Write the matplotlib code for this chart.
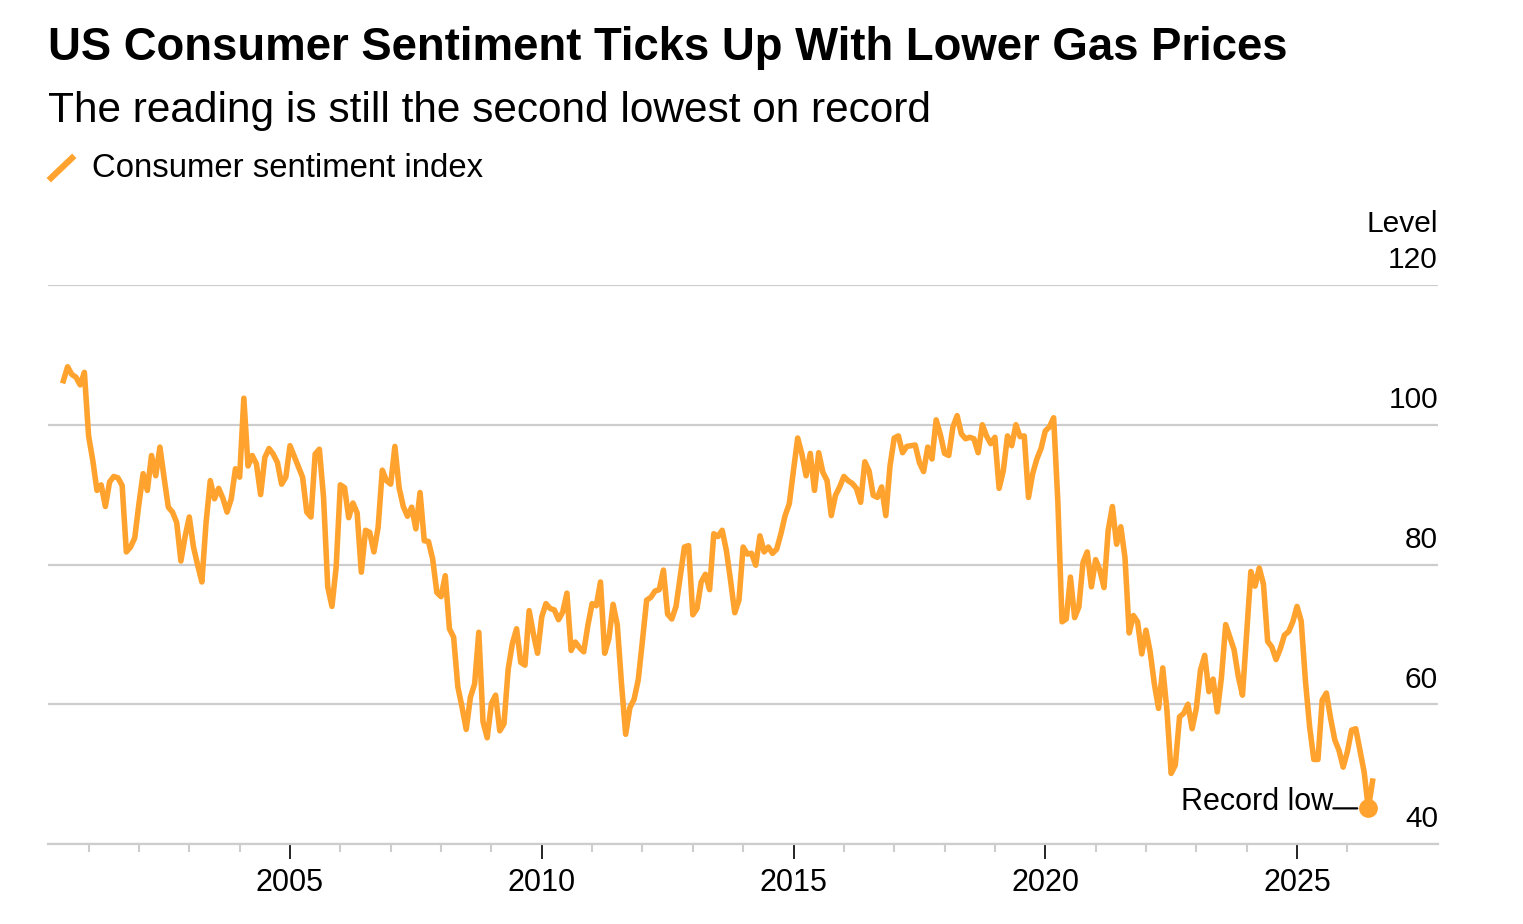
import numpy as np
import matplotlib
matplotlib.use("Agg")
import matplotlib.pyplot as plt
import matplotlib.transforms as mtransforms

plt.rcParams['font.family'] = ['Liberation Sans', 'DejaVu Sans']

# ---- data (monthly, first value plotted at mid-2000) ----
start_year = 2000.5
sentiment = [
    106.3, 108.3, 107.2, 106.8, 105.7, 107.5, 98.4, 94.9, 90.6, 91.4, 88.3, 91.8,
    92.6, 92.4, 91.3, 81.8, 82.5, 83.8, 88.7, 93.0, 90.6, 95.6, 92.7, 96.8,
    92.4, 88.2, 87.5, 86.0, 80.5, 84.0, 86.8, 82.5, 79.9, 77.5, 86.0, 92.0,
    89.4, 90.9, 89.5, 87.5, 89.4, 93.7, 92.5, 103.8, 94.1, 95.6, 94.4, 90.0,
    95.3, 96.6, 95.8, 94.6, 91.5, 92.5, 97.0, 95.5, 94.0, 92.5, 87.5, 86.8,
    95.8, 96.5, 89.6, 76.8, 74.0, 79.6, 91.4, 91.0, 86.7, 88.8, 87.4, 78.9,
    84.9, 84.6, 81.8, 85.3, 93.5, 92.0, 91.5, 96.9, 91.0, 88.3, 86.9, 88.2,
    85.1, 90.3, 83.4, 83.3, 80.8, 76.0, 75.4, 78.4, 70.8, 69.6, 62.5, 59.6,
    56.4, 61.0, 62.9, 70.3, 57.5, 55.2, 60.1, 61.3, 56.2, 57.2, 65.0, 68.7,
    70.8, 66.0, 65.6, 73.4, 70.1, 67.3, 72.5, 74.4, 73.7, 73.5, 72.1, 73.2,
    75.9, 67.7, 68.9, 68.1, 67.5, 71.3, 74.4, 74.1, 77.5, 67.3, 69.4, 74.3,
    71.4, 63.0, 55.7, 59.5, 60.7, 63.5, 69.1, 74.9, 75.3, 76.2, 76.4, 79.2,
    72.9, 72.2, 74.0, 78.3, 82.5, 82.7, 72.8, 73.7, 77.5, 78.6, 76.4, 84.4,
    84.0, 84.9, 82.0, 77.7, 73.1, 74.9, 82.5, 81.5, 81.6, 79.9, 84.1, 81.8,
    82.5, 81.6, 82.2, 84.4, 87.0, 88.7, 93.5, 98.1, 95.8, 92.7, 95.9, 90.6,
    96.0, 93.2, 92.0, 87.0, 89.9, 91.1, 92.6, 92.0, 91.6, 90.9, 88.9, 94.7,
    93.4, 89.9, 89.6, 91.1, 87.0, 94.1, 98.1, 98.4, 96.0, 96.9, 97.0, 97.1,
    94.6, 93.3, 96.8, 95.1, 100.7, 98.6, 95.9, 95.6, 99.7, 101.3, 98.7, 98.0,
    98.2, 98.0, 96.0, 100.0, 98.4, 97.3, 98.2, 90.9, 93.4, 98.4, 97.0, 100.0,
    98.3, 98.4, 89.6, 93.0, 95.1, 96.6, 99.1, 99.7, 101.0, 89.0, 71.8, 72.2,
    78.2, 72.4, 73.9, 80.3, 81.8, 76.8, 80.7, 79.2, 76.7, 84.9, 88.3, 82.9,
    85.4, 81.0, 70.2, 72.7, 71.8, 67.2, 70.6, 67.5, 62.9, 59.4, 65.2, 59.1,
    50.1, 51.3, 58.2, 58.7, 60.0, 56.5, 59.4, 64.9, 67.0, 61.8, 63.6, 58.9,
    63.9, 71.4, 69.6, 67.8, 64.0, 61.3, 70.1, 79.0, 76.9, 79.5, 77.2, 69.0,
    68.2, 66.4, 67.9, 69.9, 70.4, 71.8, 74.0, 71.9, 63.4, 56.8, 52.1, 52.1,
    60.6, 61.6, 58.0, 54.9, 53.4, 51.0, 53.2, 56.3, 56.5, 53.4, 50.3, 45.1,
    49.0,
]
record_low_index = 311

y_ticks = [40, 60, 80, 100, 120]
x_major = [2005, 2010, 2015, 2020, 2025]
x_minor = [y for y in range(2001, 2027) if y % 5 != 0]

title = "US Consumer Sentiment Ticks Up With Lower Gas Prices"
subtitle = "The reading is still the second lowest on record"
legend_label = "Consumer sentiment index"
unit_label = "Level"
annot = "Record low"

ORANGE = "#FFA22E"
GRID = "#CDCDCD"

years = start_year + np.arange(len(sentiment)) / 12.0

W, H = 1523, 924
fig = plt.figure(figsize=(W / 100, H / 100), dpi=100)
ax = fig.add_axes([48 / W, (H - 844) / H, (1438 - 48) / W, (844 - 285) / H])

ax.plot(years, sentiment, color=ORANGE, lw=4.0, solid_joinstyle='round', zorder=3)
ax.plot(years[record_low_index], sentiment[record_low_index], 'o', color=ORANGE,
        ms=12.5, zorder=4)

ax.set_xlim(2000.194, 2027.80)
ax.set_ylim(40, 120)

# grid
ax.set_yticks(y_ticks)
ax.yaxis.grid(True, color=GRID, lw=1.6)
ax.tick_params(axis='y', length=0, labelleft=False)
for s in ['top', 'right', 'left']:
    ax.spines[s].set_visible(False)
ax.spines['bottom'].set_color(GRID)
ax.spines['bottom'].set_linewidth(1.6)
ax.set_axisbelow(True)

ax.set_xticks(x_major)
ax.set_xticklabels([str(v) for v in x_major], fontsize=22)
ax.set_xticks(x_minor, minor=True)
ax.tick_params(axis='x', which='major', length=11, width=1.2, color='black', pad=6)
ax.tick_params(axis='x', which='minor', length=6, width=1.5, color=GRID)

# y labels above gridlines, right-aligned
trans = mtransforms.blended_transform_factory(ax.transAxes, ax.transData)
off = mtransforms.ScaledTranslation(0, 12 / 72, fig.dpi_scale_trans)
for v in y_ticks:
    ax.text(1.0, v, str(v), transform=trans + off, ha='right', va='baseline',
            fontsize=21.5)
off2 = mtransforms.ScaledTranslation(0, 38 / 72, fig.dpi_scale_trans)
ax.text(1.0, 120, unit_label, transform=trans + off2, ha='right', va='baseline',
        fontsize=21.5)

# record low annotation
dot = (years[record_low_index], sentiment[record_low_index])
ax.annotate('', xy=dot, xytext=(-35, 0), textcoords='offset pixels',
            arrowprops=dict(arrowstyle='-', color='black', lw=1.6,
                            shrinkA=0, shrinkB=8))
ax.annotate(annot, xy=dot, xytext=(-35, -2), textcoords='offset pixels',
            ha='right', va='baseline', fontsize=22)

# titles and legend
fig.text(48 / W, 1 - 60 / H, title, fontsize=32.8, fontweight='bold', va='baseline', ha='left')
fig.text(48 / W, 1 - 122 / H, subtitle, fontsize=30.5, va='baseline', ha='left')
fig.add_artist(plt.Line2D([51 / W, 72 / W], [1 - 178 / H, 1 - 158 / H], color=ORANGE,
                          lw=4.5, transform=fig.transFigure))
fig.text(92 / W, 1 - 177 / H, legend_label, fontsize=23.7, va='baseline', ha='left')

fig.savefig("out.png", dpi=100)
